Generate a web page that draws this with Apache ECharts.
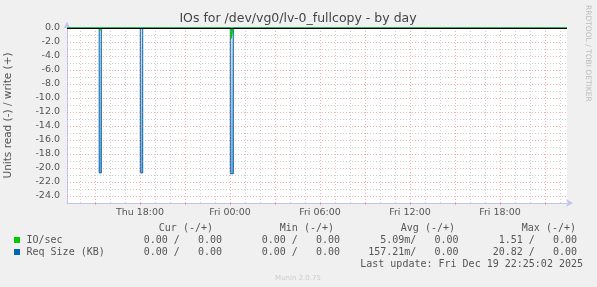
<!DOCTYPE html>
<html><head><meta charset="utf-8">
<script src="https://cdn.jsdelivr.net/npm/echarts@6/dist/echarts.min.js"></script>
<style>html,body{margin:0;padding:0;background:#f0f0f0;}#c{width:597px;height:287px;}</style>
</head><body><div id="c"></div>
<script>
// ---------- data ----------
const chartTitle = 'IOs for /dev/vg0/lv-0_fullcopy - by day';
const yAxisName = 'Units read (-) / write (+)';
// x values: hours since Thu 00:00
const xStart = 13 + 8 / 60;
const xEnd = 46 + 28 / 60;
const xLabelHours = [18, 24, 30, 36, 42];
const xLabelText = ['Thu 18:00', 'Fri 00:00', 'Fri 06:00', 'Fri 12:00', 'Fri 18:00'];
const xMajorHours = [15, 18, 21, 24, 27, 30, 33, 36, 39, 42, 45];
const xMinorHours = [14, 16, 17, 19, 20, 22, 23, 25, 26, 28, 29, 31, 32, 34, 35, 37, 38, 40, 41, 43, 44, 46];
const yMajorTicks = [0, -2, -4, -6, -8, -10, -12, -14, -16, -18, -20, -22, -24];
const yMinorTicks = [-1, -3, -5, -7, -9, -11, -13, -15, -17, -19, -21, -23];
const yMin = -25, yMax = 0;

// read (negative) outlines: [hour, value]
const reqSizeRead = [[xStart, 0], [15.28, 0], [15.28, -20.7], [15.42, -20.7], [15.42, 0],
  [18.02, 0], [18.02, -20.7], [18.18, -20.7], [18.18, 0],
  [24.02, 0], [24.02, -20.82], [24.22, -20.82], [24.22, 0], [xEnd, 0]];
const ioRead = [[xStart, 0], [15.31, 0], [15.31, -0.35], [15.40, -0.35], [15.40, 0],
  [18.05, 0], [18.05, -0.2], [18.15, -0.2], [18.15, 0],
  [24.07, 0], [24.07, -1.51], [24.19, -1.51], [24.19, 0], [xEnd, 0]];
// write (positive) values are all zero
const ioWrite = [[xStart, 0], [xEnd, 0]];
const reqSizeWrite = [[xStart, 0], [xEnd, 0]];

const legendNames = ['IO/sec', 'Req Size (KB)'];
const legendColors = ['#00cc00', '#0066b3'];
const legendHeaders = ['Cur (-/+)', 'Min (-/+)', 'Avg (-/+)', 'Max (-/+)'];
const legendIoValues = ['0.00 /   0.00', '0.00 /   0.00', '5.09m/   0.00', '1.51 /   0.00'];
const legendReqValues = ['0.00 /   0.00', '0.00 /   0.00', '157.21m/   0.00', '20.82 /   0.00'];
const lastUpdate = 'Last update: Fri Dec 19 22:25:02 2025';
const sideText = 'RRDTOOL / TOBI OETIKER';
const footer = 'Munin 2.0.75';

// ---------- chart ----------
const chart = echarts.init(document.getElementById('c'), null, {renderer: 'canvas'});
const font = 'DejaVu Sans';
const mono = 'DejaVu Sans Mono';
const axisCol = '#c4c4ee';
const majorCol = 'rgba(235,110,110,0.55)';
const minorCol = 'rgba(160,160,160,0.5)';

function gridLines(name, xs, ys, color) {
  const data = [];
  xs.forEach(v => data.push({xAxis: v}));
  ys.forEach(v => data.push({yAxis: v}));
  return {
    name: name, type: 'line', data: [[xStart, yMin]], showSymbol: false, silent: true,
    lineStyle: {opacity: 0}, z: 1, animation: false,
    markLine: {silent: true, symbol: 'none', animation: false, label: {show: false},
      lineStyle: {color: color, width: 1, type: [1, 2]}, data: data}
  };
}

const headerRight = [213, 334, 455, 576];
const valueRight = [222, 340, 458.5, 577];
const graphics = [];
graphics.push({type: 'text', x: 298, y: 19, style: {text: chartTitle, font: '12.5px "' + font + '"', fill: '#444', textAlign: 'center', textVerticalAlign: 'middle'}});
graphics.push({type: 'text', x: 588, y: 5, rotation: -Math.PI / 2, style: {text: sideText, font: '7.5px "' + font + '"', fill: '#bbb', textAlign: 'left', textVerticalAlign: 'middle'}});
legendHeaders.forEach((h, i) => graphics.push({type: 'text', x: headerRight[i], y: 228, style: {text: h, font: '10px "' + mono + '"', fill: '#555', textAlign: 'right', textVerticalAlign: 'middle'}}));
[legendIoValues, legendReqValues].forEach((vals, r) => {
  const y = 240 + r * 12;
  graphics.push({type: 'rect', shape: {x: 14, y: y - 3, width: 6, height: 6}, style: {fill: legendColors[r]}});
  graphics.push({type: 'text', x: 26.5, y: y, style: {text: legendNames[r], font: '10px "' + mono + '"', fill: '#555', textAlign: 'left', textVerticalAlign: 'middle'}});
  vals.forEach((v, i) => graphics.push({type: 'text', x: valueRight[i], y: y, style: {text: v, font: '10px "' + mono + '"', fill: '#555', textAlign: 'right', textVerticalAlign: 'middle'}}));
});
graphics.push({type: 'text', x: 583, y: 264, style: {text: lastUpdate, font: '10px "' + mono + '"', fill: '#555', textAlign: 'right', textVerticalAlign: 'middle'}});
graphics.push({type: 'text', x: 298, y: 278, style: {text: footer, font: '7px "' + font + '"', fill: '#ccc', textAlign: 'center', textVerticalAlign: 'middle'}});

chart.setOption({
  backgroundColor: '#f0f0f0',
  animation: false,
  grid: {left: 67, top: 28, width: 500, height: 175, containLabel: false, outerBoundsMode: 'none', show: true, backgroundColor: '#ffffff', borderWidth: 0},
  xAxis: {
    type: 'value', min: xStart, max: xEnd,
    axisLine: {onZero: false, lineStyle: {color: axisCol, width: 1}, symbol: ['none', 'arrow'], symbolSize: [6, 7], symbolOffset: [0, 6]},
    axisTick: {show: true, length: 2, inside: false, lineStyle: {color: majorCol}, customValues: xMajorHours},
    axisLabel: {customValues: xLabelHours, margin: 5, color: '#555', fontFamily: font, fontSize: 9.5,
      formatter: v => { const i = xLabelHours.indexOf(Math.round(v)); return i >= 0 ? xLabelText[i] : ''; }},
    splitLine: {show: false}
  },
  yAxis: {
    type: 'value', min: yMin, max: yMax,
    name: yAxisName, nameLocation: 'middle', nameGap: 53, nameRotate: 90,
    nameTextStyle: {color: '#555', fontFamily: font, fontSize: 10.5},
    axisLine: {show: true, onZero: false, lineStyle: {color: axisCol, width: 1}, symbol: ['none', 'arrow'], symbolSize: [6, 7], symbolOffset: [0, 6]},
    axisTick: {show: false},
    axisLabel: {customValues: yMajorTicks, margin: 7, color: '#555', fontFamily: font, fontSize: 9.5, formatter: v => v.toFixed(1)},
    splitLine: {show: false}
  },
  graphic: graphics,
  series: [
    gridLines('minor', xMinorHours, yMinorTicks, minorCol),
    gridLines('major', xMajorHours, yMajorTicks.filter(v => v !== 0), majorCol),
    {name: 'Req Size (KB) read', type: 'line', data: reqSizeRead, showSymbol: false, z: 3,
      lineStyle: {color: '#0066b3', width: 1},
      areaStyle: {color: new echarts.graphic.LinearGradient(0, 0, 0, 1, [
        {offset: 0, color: 'rgba(0,102,179,0.25)'}, {offset: 1, color: 'rgba(0,102,179,0.8)'}])}},
    {name: 'IO/sec read', type: 'line', data: ioRead, showSymbol: false, z: 4,
      lineStyle: {color: '#00cc00', width: 1.5}},
    {name: 'IO/sec write', type: 'line', data: ioWrite, showSymbol: false, z: 4, lineStyle: {color: '#00cc00', width: 1}},
    {name: 'Req Size (KB) write', type: 'line', data: reqSizeWrite, showSymbol: false, z: 5, lineStyle: {color: '#0066b3', width: 1}},
    {name: 'zero', type: 'line', data: [[xStart, 0]], showSymbol: false, silent: true, lineStyle: {opacity: 0}, z: 8,
      markLine: {silent: true, symbol: 'none', label: {show: false}, z: 8, lineStyle: {color: '#000', width: 1.2, type: 'solid'}, data: [{yAxis: 0}]}}
  ]
});
</script></body></html>
